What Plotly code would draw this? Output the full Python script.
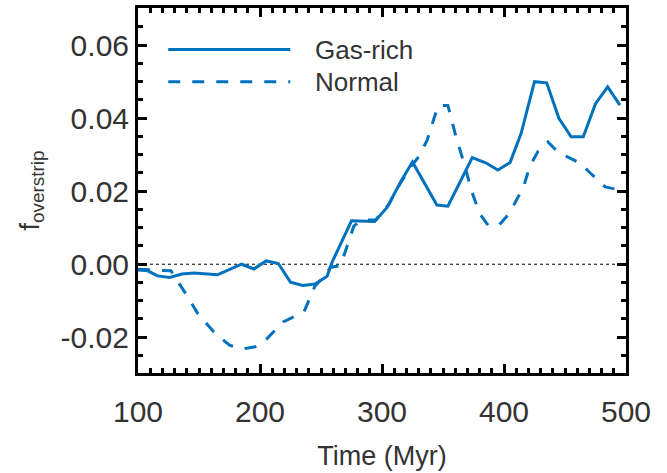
import plotly.graph_objects as go

# Gas-rich run: fraction of overstripped mass vs time
t_gas = [100, 108, 116, 126, 136, 146, 165, 176, 185, 195, 205, 215, 225, 235,
         245, 255, 259, 275, 294, 304, 316, 325, 345, 354, 374, 385, 395, 405,
         414, 425, 435, 445, 455, 465, 475, 485, 495]
f_gas = [-0.0016, -0.0018, -0.0032, -0.0036, -0.0027, -0.0024, -0.0029, -0.0012,
         0.0000, -0.0013, 0.0009, 0.0002, -0.0049, -0.0058, -0.0054, -0.0033,
         0.0005, 0.0119, 0.0117, 0.0155, 0.0230, 0.0280, 0.0162, 0.0159, 0.0292,
         0.0278, 0.0258, 0.0279, 0.0358, 0.0500, 0.0497, 0.0400, 0.0349, 0.0349,
         0.0440, 0.0486, 0.0436]

# Normal run
t_norm = [100, 110, 127, 139, 149, 162, 175, 186, 196, 206, 219, 236, 245, 251,
          258, 266, 277, 283, 295, 306, 314, 322, 330, 337, 346, 354, 360, 368,
          374, 380, 387, 396, 403, 408, 416, 421, 428, 436, 444, 452, 463, 470,
          483, 495]
f_norm = [-0.0014, -0.0015, -0.0018, -0.0080, -0.0135, -0.0185, -0.0222, -0.0232,
          -0.0226, -0.0203, -0.0158, -0.0131, -0.0060, -0.0039, -0.0008, -0.0004,
          0.0105, 0.0120, 0.0122, 0.0166, 0.0216, 0.0260, 0.0294, 0.0340, 0.0435,
          0.0435, 0.0358, 0.0267, 0.0195, 0.0139, 0.0107, 0.0107, 0.0134, 0.0162,
          0.0212, 0.0267, 0.0310, 0.0335, 0.0308, 0.0294, 0.0276, 0.0252, 0.0212,
          0.0203]

x_ticks = [100, 200, 300, 400, 500]
y_ticks = [-0.02, 0.00, 0.02, 0.04, 0.06]
y_tick_text = ["-0.02", "0.00", "0.02", "0.04", "0.06"]
series_names = ["Gas-rich", "Normal"]

BLUE = "#0072BD"
TEXT = "#333333"
FONT = "Liberation Sans, Arial, sans-serif"
DASH = "12px,12px"

fig = go.Figure()
fig.add_trace(go.Scatter(x=t_gas, y=f_gas, mode="lines", name=series_names[0],
                         line=dict(color=BLUE, width=3)))
fig.add_trace(go.Scatter(x=t_norm, y=f_norm, mode="lines", name=series_names[1],
                         line=dict(color=BLUE, width=3, dash=DASH)))

# dotted zero reference line
fig.add_shape(type="line", xref="paper", yref="y", x0=0, x1=1, y0=0, y1=0,
              line=dict(color="black", width=1, dash="3px,3px"), layer="below")

# hand-drawn legend with long line samples
leg_x0, leg_x1, leg_tx = 0.062, 0.312, 0.358
leg_y = [0.886, 0.798]
for name, yy, dash in zip(series_names, leg_y, ["solid", DASH]):
    fig.add_shape(type="line", xref="paper", yref="paper", x0=leg_x0, x1=leg_x1,
                  y0=yy, y1=yy, line=dict(color=BLUE, width=3, dash=dash))
    fig.add_annotation(xref="paper", yref="paper", x=leg_tx, y=yy, text=name,
                       showarrow=False, xanchor="left", yanchor="middle",
                       font=dict(family=FONT, size=26, color=TEXT))

axis_common = dict(showline=True, linecolor="black", linewidth=3, mirror="allticks",
                   ticks="inside", ticklen=9, tickwidth=3, tickcolor="black",
                   showgrid=False, zeroline=False,
                   tickfont=dict(family=FONT, size=30, color=TEXT))

fig.update_xaxes(range=[100, 500], tickmode="array", tickvals=x_ticks,
                 ticklabelstandoff=10,
                 minor=dict(dtick=10, tick0=100, ticks="inside", ticklen=5,
                            tickwidth=3, tickcolor="black"),
                 title=dict(text="Time (Myr)", standoff=20,
                            font=dict(family=FONT, size=27, color=TEXT)),
                 **axis_common)
fig.update_yaxes(range=[-0.0298, 0.0702], tickmode="array", tickvals=y_ticks,
                 ticktext=y_tick_text,
                 minor=dict(dtick=0.005, tick0=0, ticks="inside", ticklen=5,
                            tickwidth=3, tickcolor="black"),
                 title=dict(text="f<sub>overstrip</sub>", standoff=14,
                            font=dict(family=FONT, size=27, color=TEXT)),
                 **axis_common)

fig.update_layout(width=667, height=473, showlegend=False,
                  margin=dict(l=138, r=41, t=8, b=100, autoexpand=False),
                  plot_bgcolor="white", paper_bgcolor="white",
                  font=dict(family=FONT, color=TEXT))

fig.write_html("out.html")
